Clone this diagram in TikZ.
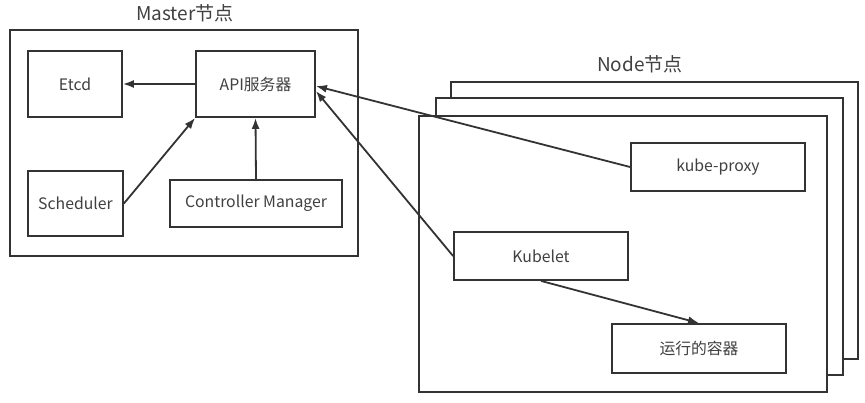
\documentclass[tikz,border=0pt]{standalone}
\usepackage{fontspec}
\setmainfont{Noto Sans CJK SC}
\usepackage{tikz}
\usetikzlibrary{arrows.meta}

\tikzset{
  box/.style={draw=black!80, line width=1.8pt, fill=white, inner sep=0pt,
    font=\fontsize{15.8}{18}\selectfont, text=black!75},
  link/.style={draw=black!80, line width=1.8pt, -{Latex[length=11pt,width=8pt]}},
}

\begin{document}
\begin{tikzpicture}[x=1pt,y=-1pt]
\useasboundingbox (0,0) rectangle (865,402);
% master
\node[box, minimum width=348pt, minimum height=226pt] (master) at (184,143) {};
\node[font=\fontsize{19}{22}\selectfont, text=black!75] (mlabel) at (185,13) {Master节点};
\node[box, minimum width=94pt, minimum height=66pt] (etcd) at (75,84) {Etcd};
\node[box, minimum width=119pt, minimum height=66pt] (api) at (255.5,84) {API服务器};
\node[box, minimum width=95pt, minimum height=65pt] (sched) at (75.5,203.5) {Scheduler};
\node[box, minimum width=172pt, minimum height=47pt] (ctrl) at (256,203.5) {Controller Manager};
% node stack
\node[font=\fontsize{19}{22}\selectfont, text=black!75] (nlabel) at (640,64) {Node节点};
\node[box, minimum width=407pt, minimum height=277pt] (node3) at (654.5,220.5) {};
\node[box, minimum width=407pt, minimum height=277pt] (node2) at (639.5,236.5) {};
\node[box, minimum width=408pt, minimum height=276pt] (node1) at (623,254) {};
\node[box, minimum width=174pt, minimum height=48pt] (proxy) at (718,167) {kube-proxy};
\node[box, minimum width=174pt, minimum height=48pt] (kubelet) at (541,256) {Kubelet};
\node[box, minimum width=174pt, minimum height=49pt] (pod) at (699,348.5) {运行的容器};
% arrows
\draw[link] (api) -- (etcd);
\draw[link] (sched.east) -- (api.south west);
\draw[link] (ctrl.north) -- (api.south);
\draw[link] (proxy.west) -- ([yshift=-2pt]api.east);
\draw[link] (kubelet.west) -- ([yshift=-7pt]api.east);
\draw[link] (kubelet.south) -- (pod.north);
\end{tikzpicture}
\end{document}
